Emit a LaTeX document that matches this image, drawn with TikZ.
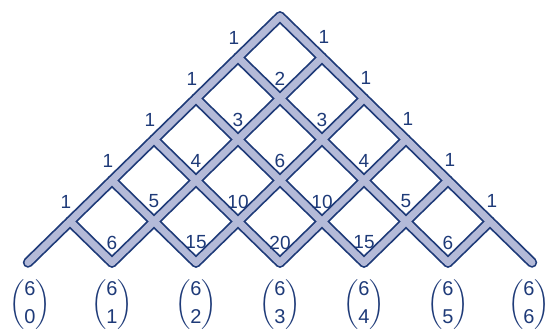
\documentclass[tikz,border=0pt]{standalone}
\usepackage{fontspec,amsmath}
\setmainfont{Liberation Sans}
\usetikzlibrary{calc}
\definecolor{Navy}{HTML}{1E3A78}
\definecolor{Road}{HTML}{B4BAD8}

\begin{document}
\begin{tikzpicture}[x=1pt,y=-1pt,
    outline/.style={Navy,line width=10.5pt,line cap=round,line join=round},
    lane/.style={Road,line width=7pt,line cap=round,line join=round},
    num/.style={text=Navy,font=\fontsize{19}{19}\selectfont,inner sep=0pt}]
    \useasboundingbox (0,0) rectangle (551,329);
    % street corners
    \foreach \n in {0,...,6}
      \foreach \k in {0,...,\n}
        \coordinate (p\n\k) at ({280+(2*\k-\n)*42},{16.5+\n*41});
    % streets: dark border first, then the light lane on top
    \foreach \sty in {outline,lane}
      \foreach \n in {0,...,5}
        \foreach \k in {0,...,\n}{
          \pgfmathtruncatemacro\nn{\n+1}
          \pgfmathtruncatemacro\kk{\k+1}
          \draw[\sty] (p\n\k)--(p\nn\k);
          \draw[\sty] (p\n\k)--(p\nn\kk);
        }
    % ones along the two sides
    \foreach \n in {1,...,5}{
      \node[num] (left\n) at ([xshift=-4pt,yshift=20pt]p\n0) {1};
      \node[num] (right\n) at ([xshift=2pt,yshift=21pt]p\n\n) {1};
    }
    % counts inside the blocks
    \foreach \n/\k/\v in {2/1/2,3/1/3,3/2/3,4/1/4,4/2/6,4/3/4,5/1/5,5/2/10,5/3/10,5/4/5,
                          6/1/6,6/2/15,6/3/20,6/4/15,6/5/6}
      \node[num] (c\n\k) at ([yshift=20pt]p\n\k) {\v};
    % binomials under the last row
    \foreach \k/\dx in {0/2,1/0,2/0,3/0,4/0,5/0,6/-3}
      \node[num,font=\fontsize{20}{20}\selectfont] (b\k) at ([xshift=\dx pt,yshift=-42pt]p6\k) {$\dbinom{\text{6}}{\text{\k}}$};
  \end{tikzpicture}
\end{document}
